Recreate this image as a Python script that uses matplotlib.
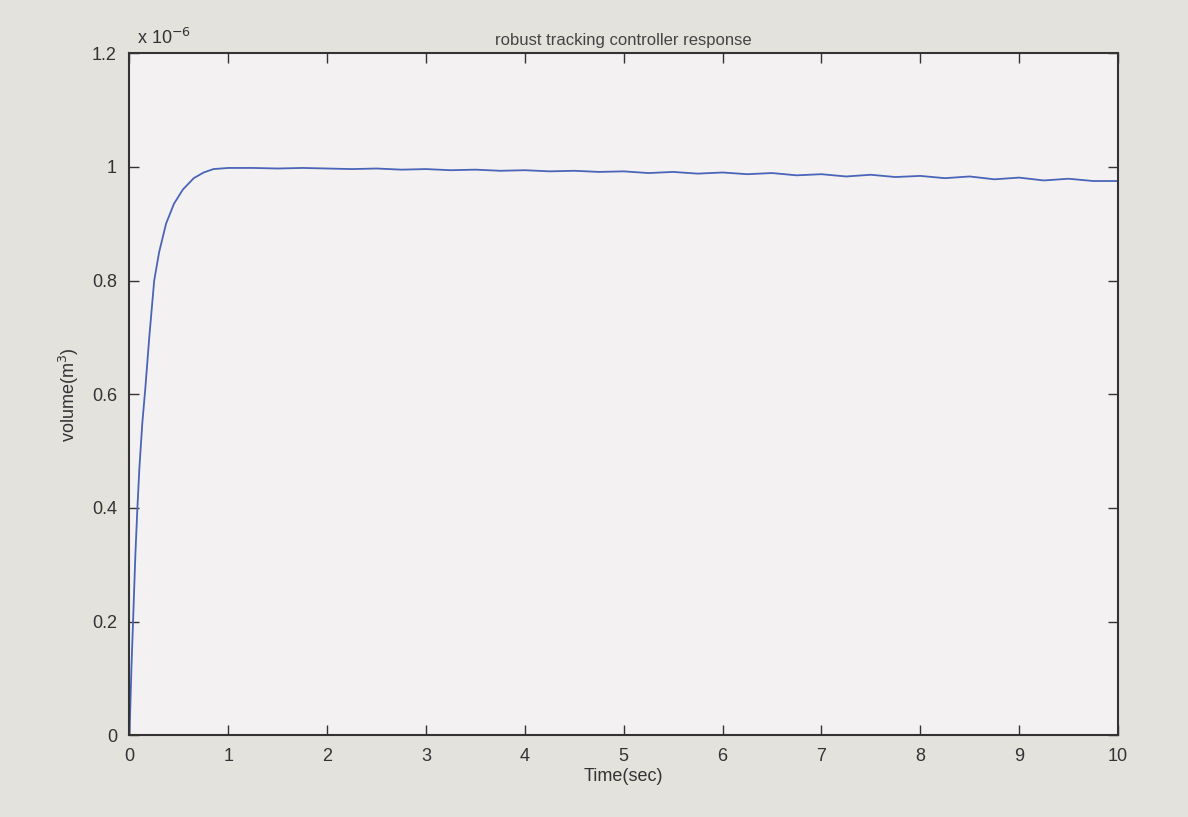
import matplotlib
matplotlib.use("Agg")
import matplotlib.pyplot as plt

plt.rcParams["font.family"] = ["Liberation Sans", "DejaVu Sans"]

# time (s) and volume (x 1e-6 m^3)
t_rise = [0, 0.02, 0.04, 0.06, 0.08, 0.10, 0.13, 0.16, 0.20, 0.25, 0.30,
          0.37, 0.45, 0.54, 0.65, 0.75, 0.85, 1.0]
v_rise = [0, 0.12, 0.22, 0.32, 0.40, 0.47, 0.55, 0.61, 0.70, 0.80, 0.85,
          0.90, 0.935, 0.96, 0.98, 0.99, 0.996, 0.998]

t_hold = [1.25, 1.5, 1.75, 2.0, 2.25, 2.5, 2.75, 3.0, 3.25, 3.5, 3.75, 4.0,
          4.25, 4.5, 4.75, 5.0, 5.25, 5.5, 5.75, 6.0, 6.25, 6.5, 6.75, 7.0,
          7.25, 7.5, 7.75, 8.0, 8.25, 8.5, 8.75, 9.0, 9.25, 9.5, 9.75, 10.0]
v_hold = [0.998, 0.997, 0.998, 0.997, 0.996, 0.997, 0.995, 0.996, 0.994, 0.995,
          0.993, 0.994, 0.992, 0.993, 0.991, 0.992, 0.989, 0.991, 0.988, 0.990,
          0.987, 0.989, 0.985, 0.987, 0.983, 0.986, 0.982, 0.984, 0.980, 0.983,
          0.978, 0.981, 0.976, 0.979, 0.975, 0.975]

x_ticks = [0, 1, 2, 3, 4, 5, 6, 7, 8, 9, 10]
y_ticks = [0, 0.2, 0.4, 0.6, 0.8, 1.0, 1.2]
y_labels = ["0", "0.2", "0.4", "0.6", "0.8", "1", "1.2"]

t = t_rise + t_hold
v = v_rise + v_hold

fig = plt.figure(figsize=(11.88, 8.17), dpi=100, facecolor="#e4e2dc")
ax = fig.add_axes([0.109, 0.10, 0.832, 0.835])
ax.set_facecolor("#f3f1f1")

ax.plot(t, v, color="#4a64b8", linewidth=1.3)

ax.set_xlim(0, 10)
ax.set_ylim(0, 1.2)
ax.set_xticks(x_ticks)
ax.set_yticks(y_ticks)
ax.set_yticklabels(y_labels)
ax.tick_params(direction="in", length=7, top=True, right=True,
               labelsize=13, colors="#333333", width=1.0, pad=9)
for s in ax.spines.values():
    s.set_color("#333333")
    s.set_linewidth(1.5)

ax.set_title("robust tracking controller response", fontsize=12,
             color="#444444", pad=6)
ax.set_xlabel("Time(sec)", fontsize=13, color="#333333", labelpad=2)
ax.set_ylabel("volume(m$^3$)", fontsize=13, color="#333333", labelpad=8)
ax.text(0.008, 1.008, "x 10$^{-6}$", transform=ax.transAxes, fontsize=13,
        color="#333333", va="bottom", ha="left")

fig.savefig("out.png", dpi=100, facecolor=fig.get_facecolor())
